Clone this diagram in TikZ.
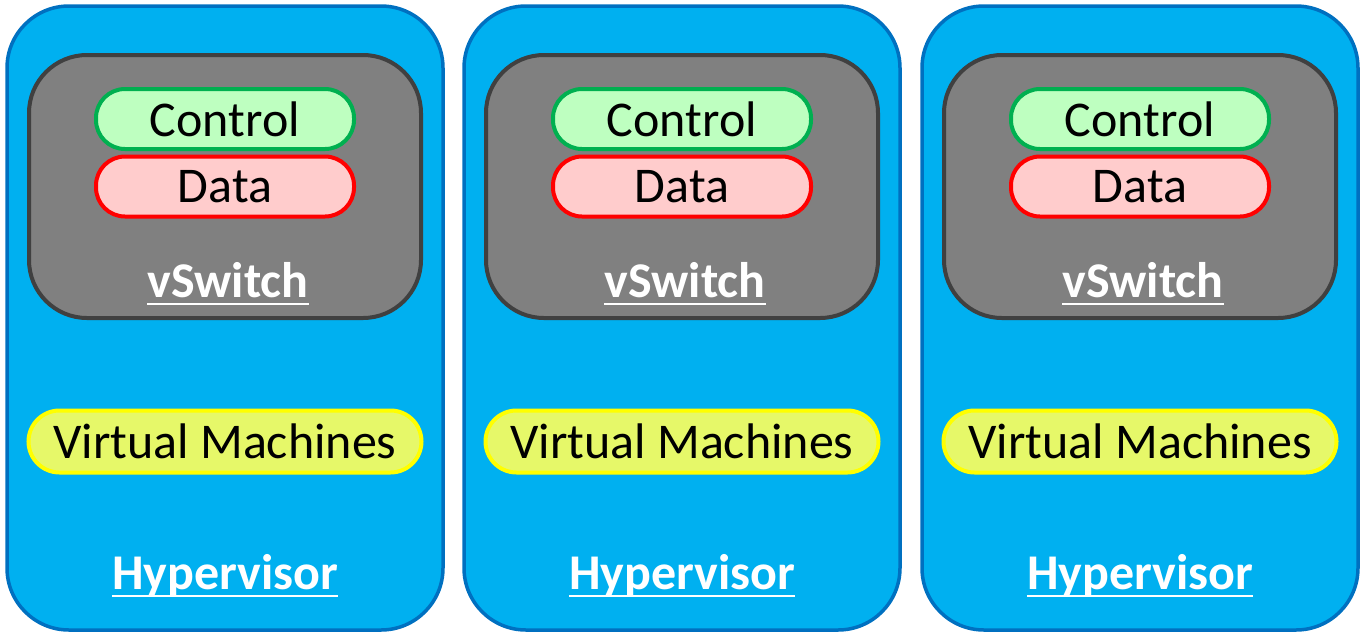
\documentclass[tikz,border=0pt]{standalone}
\usepackage{fontspec}
\setmainfont{Carlito}
\definecolor{hvfill}{RGB}{0,176,240}
\definecolor{hvdraw}{RGB}{0,112,192}
\definecolor{vsfill}{RGB}{128,128,128}
\definecolor{vsdraw}{RGB}{64,64,64}
\definecolor{ctlfill}{RGB}{190,255,192}
\definecolor{ctldraw}{RGB}{0,176,80}
\definecolor{datfill}{RGB}{255,204,204}
\definecolor{datdraw}{RGB}{255,0,0}
\definecolor{vmfill}{RGB}{230,248,105}
\definecolor{vmdraw}{RGB}{255,255,0}
\begin{document}
\begin{tikzpicture}[x=1pt,y=-1pt,
  every node/.style={font=\fontsize{50}{60}\selectfont},
  hyper/.style={draw=hvdraw, fill=hvfill, line width=3.5pt, rounded corners=62pt,
    minimum width=436pt, minimum height=624pt, inner sep=0pt},
  vswbox/.style={draw=vsdraw, fill=vsfill, line width=4pt, rounded corners=58pt,
    minimum width=392pt, minimum height=263pt, inner sep=0pt},
  pill/.style={line width=4pt, rounded corners=29pt, minimum width=258pt,
    minimum height=60pt, inner sep=0pt},
  ctlbox/.style={pill, draw=ctldraw, fill=ctlfill},
  datbox/.style={pill, draw=datdraw, fill=datfill},
  vmbox/.style={draw=vmdraw, fill=vmfill, line width=4pt, rounded corners=31pt,
    minimum width=393pt, minimum height=62pt, inner sep=0pt},
  title/.style={text=white, font=\fontsize{50}{60}\selectfont\bfseries, inner sep=0pt, anchor=base},
  uline/.style={draw=white, line width=2.8pt}
]
\useasboundingbox (0,0) rectangle (1369,641);
\foreach \i/\cx in {1/225,2/682,3/1140}{
  \node[hyper] (hv\i) at (\cx,318) {};
  \node[vswbox] (vs\i) at (\cx,186.5) {};
  \node[ctlbox] (ctl\i) at (\cx,119) {Control};
  \node[datbox] (dat\i) at (\cx,186.5) {Data};
  \node[vmbox] (vm\i) at (\cx,441.5) {Virtual Machines};
  \node[title] (vsl\i) at (\cx+3,297) {vSwitch};
  \draw[uline] ([yshift=-7pt]vsl\i.base west) -- ([yshift=-7pt]vsl\i.base east);
  \node[title] (hvl\i) at (\cx,589) {Hypervisor};
  \draw[uline] ([yshift=-7pt]hvl\i.base west) -- ([yshift=-7pt]hvl\i.base east);
}
\end{tikzpicture}
\end{document}
